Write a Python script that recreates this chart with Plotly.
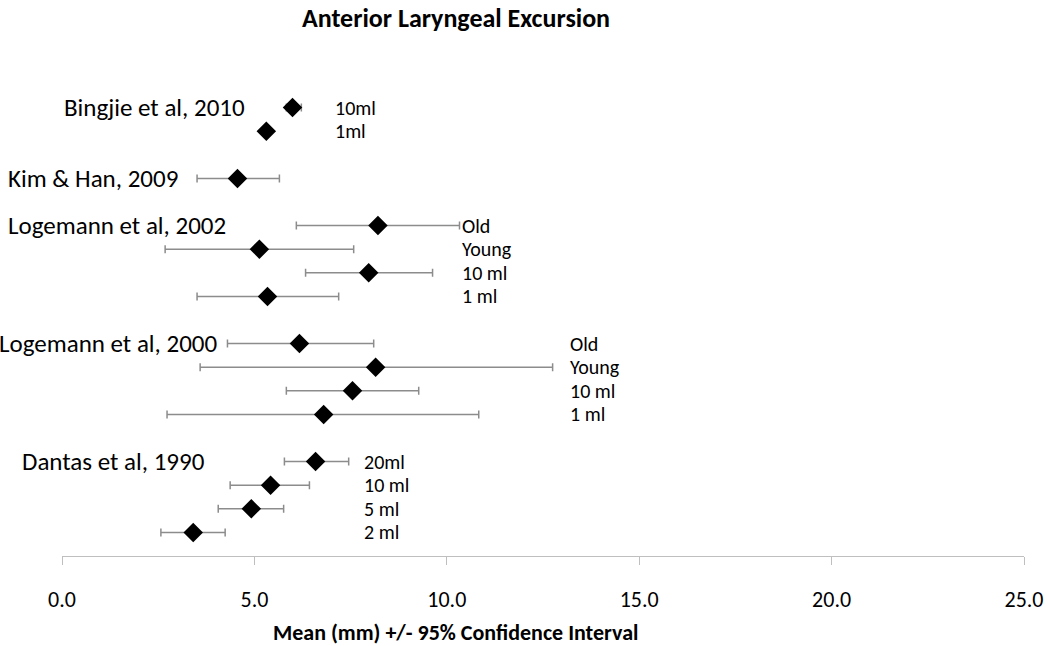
import plotly.graph_objects as go

# ---- data (top to bottom within each study) ----
studies = ["Bingjie et al, 2010", "Kim & Han, 2009", "Logemann et al, 2002",
           "Logemann et al, 2000", "Dantas et al, 1990"]
conditions = [
    ["10ml", "1ml"],
    [""],
    ["Old", "Young", "10 ml", "1 ml"],
    ["Old", "Young", "10 ml", "1 ml"],
    ["20ml", "10 ml", "5 ml", "2 ml"],
]
means = [
    [5.99, 5.31],
    [4.56],
    [8.21, 5.13, 7.97, 5.34],
    [6.17, 8.15, 7.55, 6.80],
    [6.59, 5.42, 4.92, 3.41],
]
ci_low = [
    [5.83, 5.22],
    [3.51],
    [6.09, 2.68, 6.33, 3.51],
    [4.30, 3.59, 5.83, 2.73],
    [5.78, 4.37, 4.06, 2.57],
]
ci_high = [
    [6.22, 5.40],
    [5.65],
    [10.33, 7.58, 9.63, 7.19],
    [8.10, 12.75, 9.27, 10.83],
    [7.45, 6.43, 5.76, 4.24],
]
x_ticks = [0, 5, 10, 15, 20, 25]

# ---- layout helpers (label placement in data units) ----
study_label_end = [4.82, 3.07, 4.32, 4.11, 3.77]
cond_label_start = [7.05, None, 10.35, 13.15, 7.80]

# compute row positions: bottom group first, one blank row between groups
row_y = [None] * len(studies)
pos = 1
for g in range(len(studies) - 1, -1, -1):
    n = len(means[g])
    row_y[g] = [pos + (n - 1 - i) for i in range(n)]
    pos += n + 1
top = pos - 1   # one blank row above the top group

xs, ys, ep, em = [], [], [], []
for g in range(len(studies)):
    for i, m in enumerate(means[g]):
        xs.append(m)
        ys.append(row_y[g][i])
        ep.append(ci_high[g][i] - m)
        em.append(m - ci_low[g][i])

fig = go.Figure()
fig.add_trace(go.Scatter(
    x=xs, y=ys, mode="markers",
    marker=dict(symbol="diamond", size=15, color="black"),
    error_x=dict(type="data", symmetric=False, array=ep, arrayminus=em,
                 color="#8c8c8c", thickness=1.5, width=4),
    showlegend=False, hoverinfo="x",
))

FONT = "Calibri, Carlito, Lato, sans-serif"
annotations = []
for g, s in enumerate(studies):
    annotations.append(dict(
        x=study_label_end[g], y=row_y[g][0], xref="x", yref="y",
        text=s, showarrow=False, xanchor="right", yanchor="middle",
        font=dict(family=FONT, size=25, color="black")))
    if cond_label_start[g] is not None:
        for i, c in enumerate(conditions[g]):
            if c:
                annotations.append(dict(
                    x=cond_label_start[g], y=row_y[g][i], xref="x", yref="y",
                    text=c, showarrow=False, xanchor="left", yanchor="middle",
                    font=dict(family=FONT, size=20, color="black")))

annotations.append(dict(
    x=(455 - 62) / 962, y=-0.163, xref="paper", yref="paper",
    text="<b>Mean (mm) +/- 95% Confidence Interval</b>", showarrow=False,
    xanchor="center", yanchor="middle",
    font=dict(family=FONT, size=22, color="black")))

W, H = 1050, 646
fig.update_layout(
    width=W, height=H,
    margin=dict(l=62, r=26, t=84, b=90),
    paper_bgcolor="white", plot_bgcolor="white",
    title=dict(text="<b>Anterior Laryngeal Excursion</b>",
               x=456 / W, xref="container", xanchor="center",
               y=1 - 18 / H, yref="container", yanchor="middle",
               font=dict(family=FONT, size=26, color="black")),
    xaxis=dict(range=[0, 25], tickvals=x_ticks, tickformat=".1f",
               showgrid=False, zeroline=False, showline=True,
               linecolor="#bfbfbf", linewidth=1, automargin=False,
               ticks="outside", ticklen=8, tickcolor="#bfbfbf",
               ticklabelstandoff=16,
               tickfont=dict(family=FONT, size=22, color="black")),
    yaxis=dict(range=[0, top], visible=False, showgrid=False,
               zeroline=False, automargin=False),
    annotations=annotations,
)

fig.write_html("out.html", config={"displayModeBar": False},
               post_script="document.body.style.margin='0px';")
